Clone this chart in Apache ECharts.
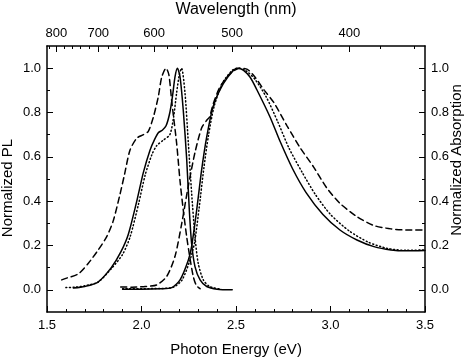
<!DOCTYPE html>
<html><head><meta charset="utf-8">
<script src="https://cdn.jsdelivr.net/npm/echarts@6/dist/echarts.min.js"></script>
<style>html,body{margin:0;padding:0;background:#fff}#c{width:474px;height:358px}</style>
</head><body><div id="c"></div>
<script>
// ---- data (photon energy in eV, normalized intensity) ----
const plSolid = [[1.64,0.008],[1.70,0.015],[1.77,0.035],[1.84,0.10],[1.89,0.17],[1.93,0.25],[1.975,0.40],[2.01,0.53],[2.045,0.63],[2.07,0.68],[2.09,0.71],[2.11,0.72],[2.13,0.74],[2.15,0.80],[2.165,0.88],[2.177,0.96],[2.19,1.0],[2.204,0.96],[2.221,0.81],[2.239,0.59],[2.253,0.36],[2.265,0.21],[2.283,0.105],[2.31,0.045],[2.345,0.015],[2.40,0.003],[2.48,0.0]];
const plDotted = [[1.60,0.01],[1.65,0.012],[1.70,0.018],[1.77,0.035],[1.84,0.095],[1.90,0.16],[1.94,0.24],[1.985,0.39],[2.02,0.52],[2.055,0.61],[2.08,0.65],[2.115,0.675],[2.15,0.70],[2.17,0.78],[2.186,0.89],[2.20,0.97],[2.212,1.0],[2.23,0.89],[2.248,0.66],[2.265,0.44],[2.283,0.24],[2.30,0.12],[2.327,0.045],[2.36,0.015],[2.42,0.003]];
const plDashed = [[1.578,0.045],[1.604,0.053],[1.666,0.072],[1.719,0.12],[1.771,0.18],[1.816,0.24],[1.85,0.31],[1.886,0.43],[1.91,0.52],[1.939,0.63],[1.975,0.684],[2.01,0.70],[2.036,0.715],[2.063,0.78],[2.089,0.872],[2.107,0.96],[2.13,1.0],[2.145,0.97],[2.16,0.85],[2.186,0.66],[2.204,0.49],[2.221,0.36],[2.239,0.24],[2.257,0.14],[2.274,0.06],[2.29,0.02],[2.31,0.005]];
const absSolid = [[1.90,0.003],[2.0,0.003],[2.1,0.005],[2.16,0.01],[2.204,0.045],[2.248,0.135],[2.265,0.195],[2.292,0.36],[2.318,0.54],[2.345,0.69],[2.38,0.83],[2.433,0.93],[2.486,0.99],[2.512,1.0],[2.54,0.99],[2.574,0.96],[2.609,0.905],[2.68,0.78],[2.733,0.67],[2.80,0.545],[2.87,0.44],[2.96,0.34],[3.05,0.27],[3.14,0.225],[3.23,0.195],[3.32,0.18],[3.4,0.176],[3.5,0.178]];
const absDotted = [[1.90,0.005],[2.1,0.006],[2.17,0.012],[2.215,0.045],[2.255,0.13],[2.28,0.21],[2.305,0.37],[2.33,0.55],[2.355,0.70],[2.385,0.83],[2.43,0.935],[2.48,0.99],[2.51,1.0],[2.55,0.99],[2.60,0.95],[2.66,0.87],[2.72,0.76],[2.78,0.64],[2.85,0.53],[2.92,0.43],[3.0,0.34],[3.1,0.265],[3.2,0.215],[3.3,0.187],[3.4,0.178],[3.5,0.18]];
const absDashed = [[1.89,0.013],[1.95,0.012],[2.02,0.015],[2.08,0.022],[2.133,0.06],[2.177,0.15],[2.213,0.30],[2.248,0.47],[2.283,0.62],[2.318,0.73],[2.345,0.765],[2.36,0.78],[2.38,0.84],[2.415,0.915],[2.468,0.975],[2.52,1.0],[2.56,0.995],[2.60,0.96],[2.65,0.90],[2.70,0.845],[2.77,0.74],[2.84,0.64],[2.91,0.555],[2.98,0.46],[3.05,0.39],[3.14,0.33],[3.23,0.29],[3.32,0.275],[3.4,0.27],[3.5,0.27]];

// ---- tick labels ----
const wlMajor = [800, 700, 600, 500, 400];
const wlMinor = [820, 780, 760, 740, 720, 680, 660, 640, 620, 580, 560, 540, 520, 480, 460, 440, 420, 380, 360];
const yMajor = [0, 0.2, 0.4, 0.6, 0.8, 1.0];
const yMinor = [0.1, 0.3, 0.5, 0.7, 0.9];
const HC = 1239.84; // eV*nm

const FONT = '"Liberation Sans", Arial, Helvetica, sans-serif';
const BLK = '#000';
const lineAx = {show: true, onZero: false, lineStyle: {color: BLK, width: 1.5}};
const noLine = {show: false, onZero: false};
const tickStyle = {color: BLK, width: 1};
const lbl = {fontSize: 13, color: BLK, fontFamily: FONT};
const nameStyle = {fontSize: 15, color: BLK, fontFamily: FONT};

function yAx(pos, major) {
  if (major) {
    return {type: 'value', position: pos, min: -0.1, max: 1.1, axisLine: lineAx,
      axisTick: {inside: true, length: 6, lineStyle: tickStyle, customValues: yMajor},
      axisLabel: Object.assign({customValues: yMajor, margin: 6, formatter: v => v.toFixed(1)}, lbl),
      splitLine: {show: false}};
  }
  return {type: 'value', position: pos, min: -0.1, max: 1.1, axisLine: noLine,
    axisTick: {inside: true, length: 3, lineStyle: tickStyle, customValues: yMinor},
    axisLabel: {show: false}, splitLine: {show: false}};
}

function ser(data, yIdx, dash) {
  return {type: 'line', data: data, xAxisIndex: 0, yAxisIndex: yIdx, showSymbol: false, symbol: 'none',
    smooth: 0.25, animation: false,
    lineStyle: {color: BLK, width: 1.5, type: dash, cap: 'round'}};
}

function vName(text, x, y) {
  return {type: 'text', x: x, y: y, rotation: Math.PI / 2,
    style: {text: text, fill: BLK, font: '15px ' + FONT, align: 'center', verticalAlign: 'middle'}};
}

const chart = echarts.init(document.getElementById('c'), null, {renderer: 'canvas'});
chart.setOption({
  animation: false,
  backgroundColor: '#fff',
  grid: {left: 47, right: 49, top: 46, bottom: 46, containLabel: false, outerBoundsMode: 'none'},
  xAxis: [
    {type: 'value', position: 'bottom', min: 1.5, max: 3.5, interval: 0.5,
      name: 'Photon Energy (eV)', nameLocation: 'middle', nameGap: 30, nameTextStyle: nameStyle,
      axisLine: lineAx, axisTick: {inside: true, length: 6, lineStyle: tickStyle},
      minorTick: {show: true, splitNumber: 5, length: 3, lineStyle: tickStyle},
      axisLabel: Object.assign({margin: 7, formatter: v => v.toFixed(1)}, lbl),
      splitLine: {show: false}, minorSplitLine: {show: false}},
    {type: 'value', position: 'top', min: 1.5, max: 3.5,
      name: 'Wavelength (nm)', nameLocation: 'middle', nameGap: 28, nameMoveOverlap: false,
      nameTextStyle: Object.assign({}, nameStyle, {fontSize: 16}),
      axisLine: lineAx,
      axisTick: {inside: true, length: 6, lineStyle: tickStyle, customValues: wlMajor.map(l => HC / l)},
      axisLabel: Object.assign({margin: 6, customValues: wlMajor.map(l => HC / l), formatter: v => String(Math.round(HC / v))}, lbl),
      splitLine: {show: false}},
    {type: 'value', position: 'top', min: 1.5, max: 3.5, axisLine: noLine,
      axisTick: {inside: true, length: 3, lineStyle: tickStyle, customValues: wlMinor.map(l => HC / l)},
      axisLabel: {show: false}, splitLine: {show: false}}
  ],
  yAxis: [
    yAx('left', true),
    yAx('right', true),
    yAx('left', false),
    yAx('right', false)
  ],
  graphic: [
    vName('Normalized PL', 8, 188),
    vName('Normalized Absorption', 457, 160)
  ],
  series: [
    ser(plSolid, 0, 'solid'),
    ser(plDotted, 0, [1, 2.6]),
    ser(plDashed, 0, [6, 4]),
    ser(absSolid, 1, 'solid'),
    ser(absDotted, 1, [1, 2.6]),
    ser(absDashed, 1, [6, 4])
  ]
});
</script></body></html>
